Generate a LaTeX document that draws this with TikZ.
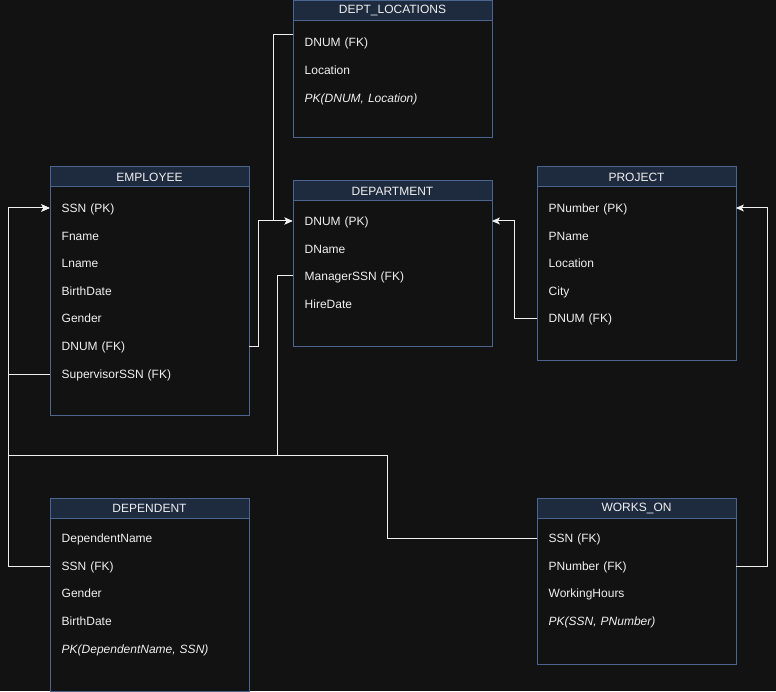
\documentclass[tikz,border=0pt]{standalone}
\usepackage{fontspec}
\setmainfont{Liberation Sans}
\usetikzlibrary{arrows.meta}
\definecolor{canvas}{HTML}{121212}
\definecolor{hdrfill}{HTML}{1E2A3E}
\definecolor{tblline}{HTML}{4A6590}
\definecolor{ink}{HTML}{F0F0F0}
\tikzset{
  tbl/.style={draw=tblline, line width=1bp, minimum width=199bp, anchor=north west, inner sep=0},
  hdr/.style={draw=tblline, line width=1bp, fill=hdrfill, minimum width=199bp, minimum height=20bp,
    anchor=north, inner sep=0, text=ink, font=\fontsize{12bp}{14bp}\selectfont},
  fld/.style={anchor=west, text width=175bp, inner xsep=12bp, inner ysep=2bp, align=left,
    text height=8.8bp, text depth=0bp, text=ink, font=\fontsize{12bp}{14bp}\selectfont},
  pk/.style={fld, font=\fontsize{12bp}{14bp}\selectfont\itshape},
  link/.style={draw=ink, line width=1bp},
  fk/.style={link, -{Stealth[length=8bp,width=7bp,inset=2bp]}}
}

\begin{document}
\begin{tikzpicture}[x=1bp,y=-1bp]
          \fill[canvas] (0,0) rectangle (776,691);
          % DEPT_LOCATIONS
          \node[tbl, minimum height=137bp] (locations) at (292.5,0.5) {};
          \node[hdr] (locations-h) at (locations.north) {DEPT\_LOCATIONS};
          \node[fld] (loc-dnum) at (292.5,42) {DNUM (FK)};
          \node[fld] (loc-loc) at (292.5,70) {Location};
          \node[pk] (loc-pk) at (292.5,98) {PK(DNUM, Location)};
          % EMPLOYEE
          \node[tbl, minimum height=248bp] (employee) at (49.5,166.5) {};
          \node[hdr] (employee-h) at (employee.north) {EMPLOYEE};
          \node[fld] (emp-ssn) at (49.5,208) {SSN (PK)};
          \node[fld] (emp-fname) at (49.5,236) {Fname};
          \node[fld] (emp-lname) at (49.5,263) {Lname};
          \node[fld] (emp-bdate) at (49.5,291) {BirthDate};
          \node[fld] (emp-gender) at (49.5,318) {Gender};
          \node[fld] (emp-dnum) at (49.5,346) {DNUM (FK)};
          \node[fld] (emp-super) at (49.5,374) {SupervisorSSN (FK)};
          % DEPARTMENT
          \node[tbl, minimum height=165bp] (department) at (292.5,180.5) {};
          \node[hdr] (department-h) at (department.north) {DEPARTMENT};
          \node[fld] (dep-dnum) at (292.5,221) {DNUM (PK)};
          \node[fld] (dep-name) at (292.5,249) {DName};
          \node[fld] (dep-mgr) at (292.5,276) {ManagerSSN (FK)};
          \node[fld] (dep-hire) at (292.5,304) {HireDate};
          % PROJECT
          \node[tbl, minimum height=193bp] (project) at (536.5,166.5) {};
          \node[hdr] (project-h) at (project.north) {PROJECT};
          \node[fld] (prj-pnum) at (536.5,208) {PNumber (PK)};
          \node[fld] (prj-pname) at (536.5,236) {PName};
          \node[fld] (prj-loc) at (536.5,263) {Location};
          \node[fld] (prj-city) at (536.5,291) {City};
          \node[fld] (prj-dnum) at (536.5,318) {DNUM (FK)};
          % DEPENDENT
          \node[tbl, minimum height=193bp] (dependent) at (49.5,497.5) {};
          \node[hdr] (dependent-h) at (dependent.north) {DEPENDENT};
          \node[fld] (dpt-name) at (49.5,538) {DependentName};
          \node[fld] (dpt-ssn) at (49.5,566) {SSN (FK)};
          \node[fld] (dpt-gender) at (49.5,593) {Gender};
          \node[fld] (dpt-bdate) at (49.5,621) {BirthDate};
          \node[pk] (dpt-pk) at (49.5,649) {PK(DependentName, SSN)};
          % WORKS_ON
          \node[tbl, minimum height=166bp] (workson) at (536.5,497.5) {};
          \node[hdr] (workson-h) at (workson.north) {WORKS\_ON};
          \node[fld] (wo-ssn) at (536.5,538) {SSN (FK)};
          \node[fld] (wo-pnum) at (536.5,566) {PNumber (FK)};
          \node[fld] (wo-hours) at (536.5,593) {WorkingHours};
          \node[pk] (wo-pk) at (536.5,621) {PK(SSN, PNumber)};
          % foreign keys
          \coordinate (trunk) at (8,455);
          \draw[fk] (loc-dnum.west) ++(0,-7) -- ++(-19,0) |- (dep-dnum.west);
          \draw[fk] (emp-dnum.east) -- ++(10,0) |- (dep-dnum.west);
          \draw[fk] (prj-dnum.west) -- ++(-22,0) |- (dep-dnum.east);
          \draw[fk] (wo-pnum.east) -- ++(32,0) |- (prj-pnum.east);
          \draw[fk] (emp-super.west) -- ++(-41,0) |- (emp-ssn.west);
          \draw[fk] (dpt-ssn.west) -- ++(-41,0) |- (emp-ssn.west);
          \draw[fk] (wo-ssn.west) -- ++(-149,0) |- (trunk) |- (emp-ssn.west);
          \draw[fk] (dep-mgr.west) -- ++(-15,0) |- (trunk) |- (emp-ssn.west);
        \end{tikzpicture}
\end{document}
